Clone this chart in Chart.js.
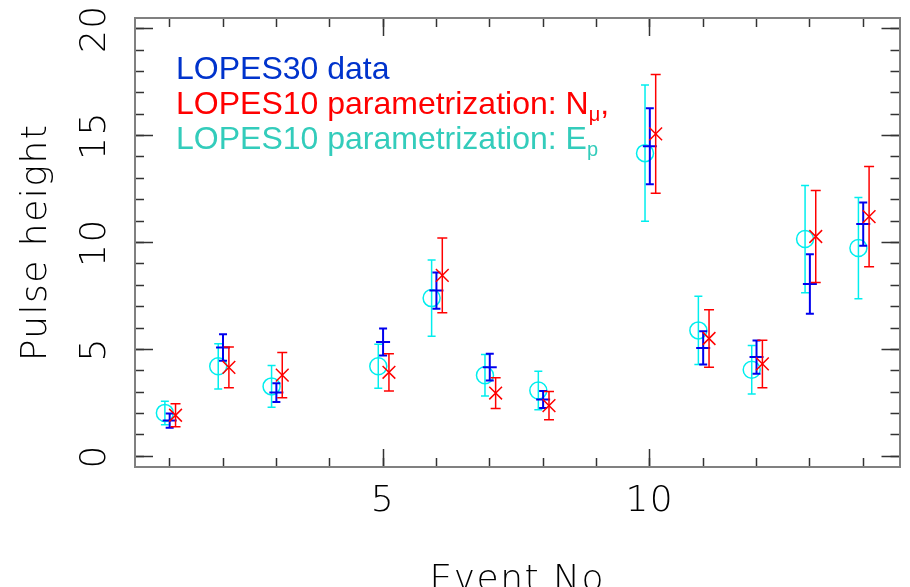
<!DOCTYPE html>
<html><head><meta charset="utf-8">
<script src="https://cdn.jsdelivr.net/npm/chart.js@4"></script>
<style>
html,body{margin:0;padding:0;background:#fff;}
#wrap{position:relative;width:910px;height:587px;overflow:hidden;}
#c{position:absolute;left:0;top:0;}
.lg{position:absolute;left:176px;font-family:'Liberation Sans',Arial,sans-serif;font-size:32px;line-height:35px;white-space:nowrap;}
.lg sub{font-size:20px;vertical-align:-7px;line-height:0;}
</style></head>
<body><div id="wrap"><canvas id="c" width="910" height="587"></canvas><div id="legend"></div></div>
<script>
// ---- data ----
const events = [1, 2, 3, 5, 6, 7, 8, 10, 11, 12, 13, 14];
const lopes30 = [1.67, 5.09, 2.98, 5.35, 7.75, 4.17, 2.66, 14.50, 5.07, 4.64, 8.06, 10.86];
const lopes30Err = [0.33, 0.62, 0.44, 0.63, 0.85, 0.63, 0.40, 1.78, 0.78, 0.78, 1.39, 1.01];
const paramNmu = [1.92, 4.16, 3.80, 3.93, 8.46, 2.96, 2.37, 15.08, 5.51, 4.32, 10.28, 11.21];
const paramNmuErr = [0.54, 0.95, 1.06, 0.87, 1.75, 0.72, 0.66, 2.78, 1.35, 1.11, 2.15, 2.34];
const paramEp = [2.03, 4.21, 3.27, 4.21, 7.40, 3.79, 3.08, 14.18, 5.89, 4.05, 10.16, 9.74];
const paramEpErr = [0.55, 1.06, 0.98, 1.03, 1.78, 0.97, 0.90, 3.19, 1.60, 1.13, 2.51, 2.37];
const xMinorTicks = [1, 2, 3, 4, 5, 6, 7, 8, 9, 10, 11, 12, 13, 14];
const xMajorTicks = [5, 10];
const yMinorTicks = [0, 1, 2, 3, 4, 5, 6, 7, 8, 9, 10, 11, 12, 13, 14, 15, 16, 17, 18, 19, 20];
const yMajorTicks = [0, 5, 10, 15, 20];
const legendLabels = [
  ['LOPES30 data', '', ''],
  ['LOPES10 parametrization: N', 'μ', ','],
  ['LOPES10 parametrization: E', 'p', '']
];
const xTitle = 'Event No';
const yTitle = 'Pulse height';

// ---- styling ----
const BLUE = '#0000ee', RED = '#ff0000', CYAN = '#00eeee';
const legendColors = ['#0033cc', '#ff0000', '#33ccbb'];
const X_MIN = 0.35, X_MAX = 14.68, Y_MIN = -0.5, Y_MAX = 20.5;
const AXIS_FONT = {family: "'DejaVu Sans', sans-serif", size: 36, weight: 200, lineHeight: 1.2};
const TICK_COL = '#333';
const BORDER_COL = '#808080';
const LS = '1.5px';

// legend (real text)
document.getElementById('legend').innerHTML = legendLabels.map((l, i) =>
  `<div class="lg" style="top:${51 + i * 35}px;color:${legendColors[i]}">${l[0]}${l[1] ? '<sub>' + l[1] + '</sub>' : ''}${l[2]}</div>`
).join('');

function errSegs(vals, errs, dx) {
  const out = [];
  events.forEach((e, i) => {
    out.push({x: e + dx, y: vals[i] - errs[i]}, {x: e + dx, y: vals[i] + errs[i]}, {x: e + dx, y: null});
  });
  return out;
}
function capPts(vals, errs, dx) {
  const out = [];
  events.forEach((e, i) => {
    out.push({x: e + dx, y: vals[i] - errs[i]}, {x: e + dx, y: vals[i] + errs[i]});
  });
  return out;
}
function ctrPts(vals, dx) { return events.map((e, i) => ({x: e + dx, y: vals[i]})); }

function series(vals, errs, dx, color, marker, order) {
  return [
    {type: 'line', data: errSegs(vals, errs, dx), borderColor: color, borderWidth: marker.lw, pointRadius: 0, spanGaps: false, tension: 0, order, xAxisID: 'x', yAxisID: 'y'},
    {type: 'scatter', data: capPts(vals, errs, dx), pointStyle: 'line', pointRadius: marker.cap, borderColor: color, borderWidth: marker.lw, order, xAxisID: 'x', yAxisID: 'y'},
    {type: 'scatter', data: ctrPts(vals, dx), pointStyle: marker.style, pointRadius: marker.r, borderColor: color, backgroundColor: 'rgba(0,0,0,0)', borderWidth: marker.mw, order, xAxisID: 'x', yAxisID: 'y'}
  ];
}

const datasets = [
  ...series(paramNmu, paramNmuErr, 0.11, RED, {style: 'crossRot', r: 9, cap: 5, lw: 1.5, mw: 1.5}, 0),
  ...series(lopes30, lopes30Err, 0.0, BLUE, {style: 'line', r: 7, cap: 4, lw: 2, mw: 2}, 1),
  ...series(paramEp, paramEpErr, -0.09, CYAN, {style: 'circle', r: 8.5, cap: 4, lw: 1.5, mw: 1.5}, 2)
];

function mkScale(pos, ticksArr, len, opts) {
  const horiz = pos === 'top' || pos === 'bottom';
  return {
    type: 'linear', position: pos, bounds: 'data',
    min: horiz ? X_MIN : Y_MIN, max: horiz ? X_MAX : Y_MAX,
    weight: opts.weight || 0,
    afterBuildTicks: s => { s.ticks = ticksArr.map(v => ({value: v})); },
    afterFit: s => {
      if (horiz) s.height = opts.size || 0; else s.width = opts.size || 0;
      s.paddingTop = 0; s.paddingBottom = 0; s.paddingLeft = 0; s.paddingRight = 0;
    },
    grid: {display: true, drawOnChartArea: false, drawTicks: true, tickLength: -len, tickColor: TICK_COL, tickWidth: 1.5},
    border: {display: !!opts.border, color: BORDER_COL, width: 2},
    ticks: opts.ticks || {display: false},
    title: opts.title || {display: false}
  };
}

const spacing = {
  id: 'spacing',
  afterInit(c) { c.ctx.letterSpacing = LS; },
  beforeLayout(c) { c.ctx.letterSpacing = LS; },
  beforeDraw(c) { c.ctx.letterSpacing = LS; }
};

new Chart(document.getElementById('c'), {
  type: 'scatter',
  data: {datasets},
  options: {
    responsive: false, animation: false, devicePixelRatio: 1,
    layout: {padding: {top: 18, right: 7, left: 0, bottom: 0}},
    plugins: {legend: {display: false}, tooltip: {enabled: false}},
    scales: {
      x: mkScale('bottom', xMinorTicks, 9, {border: true, weight: 0}),
      xMaj: mkScale('bottom', xMajorTicks, 18, {weight: 1, size: 120,
        ticks: {display: true, font: AXIS_FONT, color: '#000', padding: 31, maxRotation: 0, minRotation: 0, autoSkip: false},
        title: {display: true, text: xTitle, font: AXIS_FONT, color: '#000', padding: {top: 0, bottom: -15}}}),
      y: mkScale('left', yMinorTicks, 9, {border: true, weight: 0}),
      yMaj: mkScale('left', yMajorTicks, 18, {weight: 1, size: 135,
        ticks: {display: true, font: AXIS_FONT, color: '#000', padding: 33, crossAlign: 'center', minRotation: 90, maxRotation: 90, autoSkip: false},
        title: {display: true, text: yTitle, font: AXIS_FONT, color: '#000', padding: {top: 15, bottom: 0}}}),
      xTop: mkScale('top', xMinorTicks, 9, {border: true}),
      xTopMaj: mkScale('top', xMajorTicks, 18, {}),
      yR: mkScale('right', yMinorTicks, 9, {border: true}),
      yRMaj: mkScale('right', yMajorTicks, 18, {})
    }
  },
  plugins: [spacing]
});
</script>
</body></html>
